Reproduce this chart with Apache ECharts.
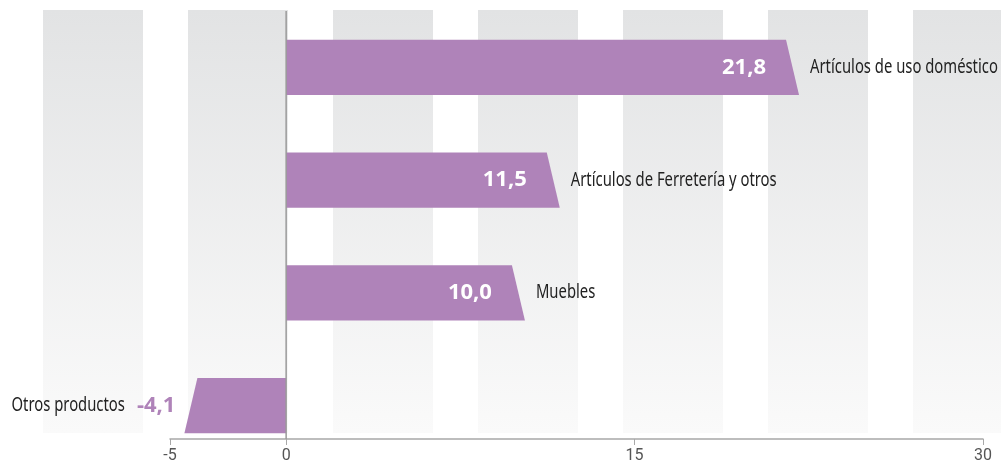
<!DOCTYPE html>
<html>
<head>
<meta charset="utf-8">
<script src="https://cdn.jsdelivr.net/npm/echarts@6/dist/echarts.min.js"></script>
<style>
  html, body { margin: 0; padding: 0; background: #fff; }
  #chart { width: 1001px; height: 472px; }
</style>
</head>
<body>
<div id="chart"></div>
<script>
// categorias (de arriba hacia abajo) y sus valores
const categories = ['Artículos de uso doméstico', 'Artículos de Ferretería y otros', 'Muebles', 'Otros productos']
const values = [21.8, 11.5, 10.0, -4.1]
// etiquetas del eje x
const tickValues = [-5, 0, 15, 30]

const BAR_COLOR = '#af83b9'
const NAME_FONT = "19px 'Noto Sans', sans-serif"
const VALUE_FONT = "bold 22px 'Open Sans', 'Noto Sans', sans-serif"
const NARROW = 0.78 // se estrecha el texto para imitar una fuente condensada
const GRID = { left: 170, right: 18, top: 11, bottom: 10 }
const AXIS_SHIFT = -23 // la linea del eje queda por encima del borde inferior del grid
const SLANT = 13

const fmt = v => v.toFixed(1).replace('.', ',')

// medir ancho de texto
const ctx = document.createElement('canvas').getContext('2d')
function textWidth(txt, font) {
  ctx.font = font
  return ctx.measureText(txt).width
}

const chart = echarts.init(document.getElementById('chart'))

function nameText(txt, x, y, align) {
  return {
    type: 'text',
    x: x, y: y, scaleX: NARROW,
    style: { text: txt, x: 0, y: 0, align: align, verticalAlign: 'middle', fill: '#222', font: NAME_FONT }
  }
}

function renderBar(params, api) {
  const v = api.value(0)
  const idx = api.value(1)
  const p0 = api.coord([0, idx])
  const p1 = api.coord([v, idx])
  const h = api.size([0, 1])[1] * 0.49
  const dir = v >= 0 ? 1 : -1
  const top = p0[1] - h / 2
  const bot = p0[1] + h / 2
  const children = [{
    type: 'polygon',
    shape: { points: [[p0[0], top], [p1[0] - dir * SLANT / 2, top], [p1[0] + dir * SLANT / 2, bot], [p0[0], bot]] },
    style: { fill: BAR_COLOR }
  }]
  if (dir > 0) {
    // valor dentro de la barra
    children.push({
      type: 'text',
      style: {
        text: fmt(v), x: p1[0] - SLANT / 2 - 20, y: p0[1],
        align: 'right', verticalAlign: 'middle', fill: '#fff', font: VALUE_FONT
      }
    })
    // nombre a la derecha
    children.push(nameText(categories[idx], p1[0] + SLANT / 2 + 11, p0[1], 'left'))
  } else {
    // valor y nombre a la izquierda
    const vx = p1[0] - SLANT / 2 - 9
    children.push({
      type: 'text',
      style: {
        text: fmt(v), x: vx, y: p0[1],
        align: 'right', verticalAlign: 'middle', fill: BAR_COLOR, font: VALUE_FONT
      }
    })
    children.push(nameText(categories[idx], vx - textWidth(fmt(v), VALUE_FONT) - 12, p0[1], 'right'))
  }
  return { type: 'group', children: children }
}

// franjas decorativas del fondo
const stripes = []
for (let x = 43; x < 1001; x += 145) {
  stripes.push({
    type: 'rect',
    z: -10,
    shape: { x: x, y: 10, width: 100, height: 423 },
    style: {
      fill: new echarts.graphic.LinearGradient(0, 0, 0, 1, [
        { offset: 0, color: '#e2e3e4' },
        { offset: 1, color: '#fafafa' }
      ])
    },
    silent: true
  })
}

const option = {
  animation: false,
  grid: GRID,
  xAxis: {
    type: 'value',
    min: -5,
    max: 30,
    interval: 5,
    offset: AXIS_SHIFT,
    splitLine: { show: false },
    axisLine: { show: true, onZero: false, lineStyle: { color: '#a8a8a8', width: 1.5 } },
    axisTick: { show: true, length: 6, customValues: tickValues, lineStyle: { color: '#a8a8a8' } },
    axisLabel: { customValues: tickValues, color: '#555', fontSize: 16, fontFamily: 'Roboto', margin: 9 }
  },
  yAxis: {
    type: 'category',
    inverse: true,
    data: categories,
    axisLine: { show: false },
    axisTick: { show: false },
    axisLabel: { show: false }
  },
  graphic: stripes,
  series: [{
    type: 'custom',
    renderItem: renderBar,
    encode: { x: 0, y: 1 },
    data: values.map((v, i) => [v, i]),
    clip: false
  }]
}

chart.setOption(option)

// linea vertical del cero, desde arriba hasta el eje x
const x0 = chart.convertToPixel({ xAxisIndex: 0 }, 0)
const axisY = 472 - GRID.bottom + AXIS_SHIFT
chart.setOption({
  graphic: stripes.concat([{
    type: 'line',
    z: 5,
    shape: { x1: x0, y1: GRID.top, x2: x0, y2: axisY },
    style: { stroke: '#9a9a9a', lineWidth: 1.5 },
    silent: true
  }])
})
</script>
</body>
</html>
